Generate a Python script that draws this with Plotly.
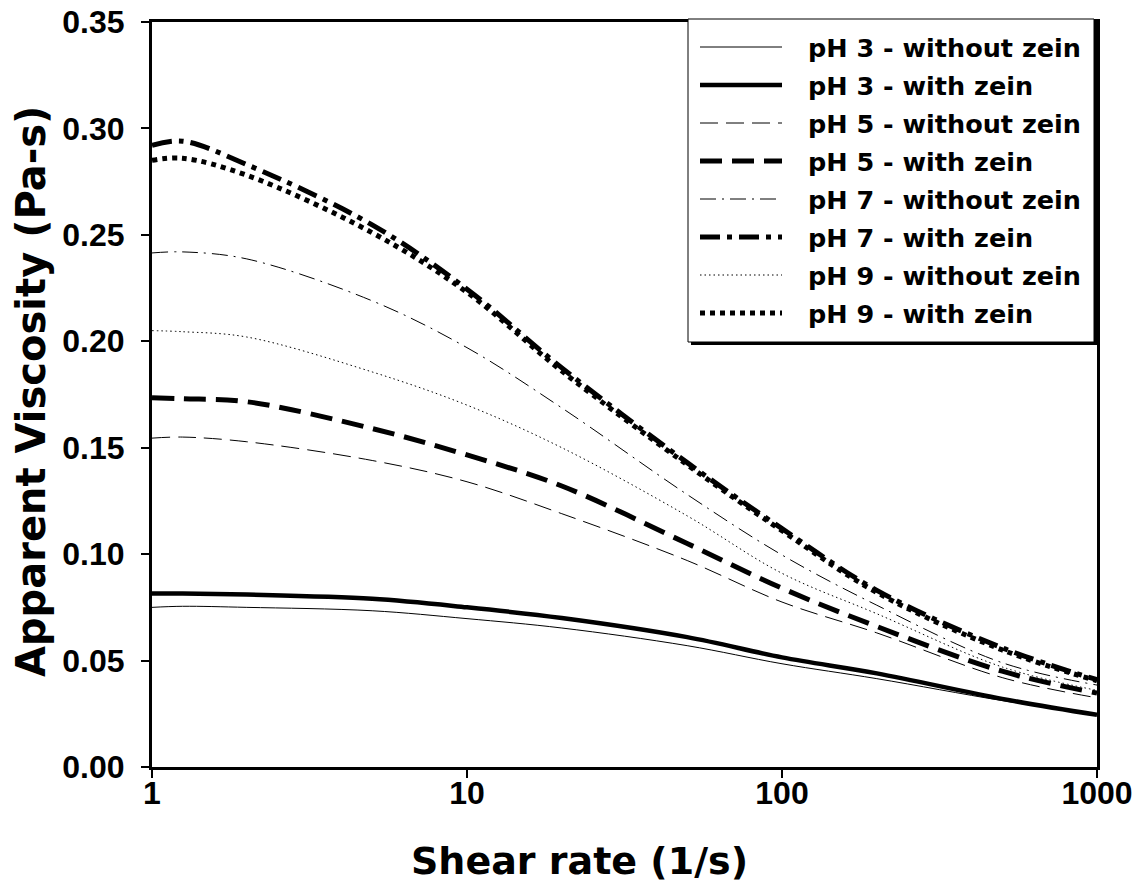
import plotly.graph_objects as go

# ---- data ----
shear_rate = [1, 1.25, 2, 5, 10, 20, 50, 100, 200, 500, 1000]

ph3_without = [0.075, 0.0755, 0.0750, 0.0734, 0.0697, 0.0653, 0.0570, 0.0485, 0.0415, 0.0312, 0.0245]
ph3_with    = [0.0815, 0.0815, 0.0810, 0.0790, 0.0750, 0.0700, 0.0610, 0.0515, 0.0440, 0.0320, 0.0245]
ph5_without = [0.1545, 0.1550, 0.1528, 0.1440, 0.1340, 0.1190, 0.0970, 0.0775, 0.0630, 0.0420, 0.0325]
ph5_with    = [0.1735, 0.1730, 0.1716, 0.1590, 0.1466, 0.1320, 0.1050, 0.0840, 0.0660, 0.0450, 0.0347]
ph7_without = [0.2415, 0.2420, 0.2387, 0.2190, 0.1970, 0.1687, 0.1280, 0.0996, 0.0760, 0.0490, 0.0385]
ph7_with    = [0.2920, 0.2940, 0.2830, 0.2547, 0.2245, 0.1875, 0.1430, 0.1120, 0.0830, 0.0560, 0.0410]
ph9_without = [0.2050, 0.2045, 0.2020, 0.1856, 0.1700, 0.1500, 0.1180, 0.0910, 0.0720, 0.0470, 0.0360]
ph9_with    = [0.2850, 0.2860, 0.2780, 0.2510, 0.2230, 0.1860, 0.1420, 0.1110, 0.0820, 0.0550, 0.0405]

series_names = [
    "pH 3 - without zein", "pH 3 - with zein",
    "pH 5 - without zein", "pH 5 - with zein",
    "pH 7 - without zein", "pH 7 - with zein",
    "pH 9 - without zein", "pH 9 - with zein",
]
series_values = [ph3_without, ph3_with, ph5_without, ph5_with,
                 ph7_without, ph7_with, ph9_without, ph9_with]

x_tick_vals = [1, 10, 100, 1000]
x_tick_text = ["1", "10", "100", "1000"]
y_tick_vals = [0.00, 0.05, 0.10, 0.15, 0.20, 0.25, 0.30, 0.35]

# ---- styles ----
styles = [
    dict(width=1, dash="solid"),
    dict(width=4.5, dash="solid"),
    dict(width=1, dash="18px,8px"),
    dict(width=5, dash="22px,10px"),
    dict(width=1, dash="16px,6px,2px,6px"),
    dict(width=5, dash="20px,7px,5px,7px"),
    dict(width=1, dash="1.5px,3px"),
    dict(width=5, dash="5px,5px"),
]

W, H = 1137, 888
L, R, T, B = 152, 1097, 22, 767          # plot area in page pixels
FONT = "Liberation Sans, Arial, sans-serif"
WIDE = "DejaVu Sans, Verdana, sans-serif"

fig = go.Figure()
for name, vals, st in zip(series_names, series_values, styles):
    fig.add_trace(go.Scatter(
        x=shear_rate, y=vals, mode="lines", name=name,
        line=dict(color="black", width=st["width"], dash=st["dash"], shape="spline", smoothing=1.0),
        showlegend=False,
    ))

def px2x(px):
    return (px - L) / (R - L)

def py2y(py):
    return (B - py) / (B - T)

shapes = []
annotations = []
# legend box with shadow
shapes.append(dict(type="rect", xref="paper", yref="paper", layer="above",
                   x0=px2x(691), x1=px2x(1097), y0=py2y(345), y1=py2y(22),
                   fillcolor="black", line=dict(width=0)))
shapes.append(dict(type="rect", xref="paper", yref="paper", layer="above",
                   x0=px2x(688), x1=px2x(1094), y0=py2y(342), y1=py2y(19),
                   fillcolor="white", line=dict(color="black", width=1)))
row0, step = 47, 38
for i, (name, st) in enumerate(zip(series_names, styles)):
    yc = row0 + i * step
    shapes.append(dict(type="line", xref="paper", yref="paper", layer="above",
                       x0=px2x(700), x1=px2x(782), y0=py2y(yc), y1=py2y(yc),
                       line=dict(color="black", width=st["width"], dash=st["dash"])))
    annotations.append(dict(xref="paper", yref="paper", x=px2x(806), y=py2y(yc + 1),
                            xanchor="left", yanchor="middle", showarrow=False,
                            text=name, font=dict(family=WIDE, size=25.5, color="black", weight="bold")))

# axis titles
annotations.append(dict(xref="paper", yref="paper", x=px2x(579), y=py2y(861),
                        xanchor="center", yanchor="middle", showarrow=False,
                        text="Shear rate (1/s)",
                        font=dict(family=WIDE, size=38, color="black", weight="bold")))
annotations.append(dict(xref="paper", yref="paper", x=px2x(31), y=py2y(392),
                        xanchor="center", yanchor="middle", showarrow=False, textangle=-90,
                        text="Apparent Viscosity (Pa-s)",
                        font=dict(family=WIDE, size=40, color="black", weight="bold")))

fig.update_layout(
    width=W, height=H,
    margin=dict(l=L, r=W - R, t=T, b=H - B, pad=0, autoexpand=False),
    paper_bgcolor="white", plot_bgcolor="white",
    shapes=shapes, annotations=annotations,
    showlegend=False,
    xaxis=dict(
        type="log", range=[0, 3], automargin=False,
        tickvals=x_tick_vals, ticktext=x_tick_text,
        ticks="outside", ticklen=8, tickwidth=1.5, tickcolor="black",
        ticklabelstandoff=-12, ticklabeloverflow="allow",
        showline=True, linecolor="black", linewidth=3, mirror=True,
        showgrid=False, zeroline=False,
        tickfont=dict(family=FONT, size=32, color="black", weight="bold"),
    ),
    yaxis=dict(
        range=[0, 0.35], tickvals=y_tick_vals, tickformat=".2f", automargin=False,
        ticks="outside", ticklen=8, tickwidth=1.5, tickcolor="black",
        ticklabelstandoff=10, ticklabeloverflow="allow",
        showline=True, linecolor="black", linewidth=3, mirror=True,
        showgrid=False, zeroline=False,
        tickfont=dict(family=FONT, size=32, color="black", weight="bold"),
    ),
)

# remove the browser's default 8px body margin so the figure fills the window
fig.write_html("out.html",
               config={"displayModeBar": False},
               post_script="document.body.style.margin='0';document.body.style.overflow='hidden';")
